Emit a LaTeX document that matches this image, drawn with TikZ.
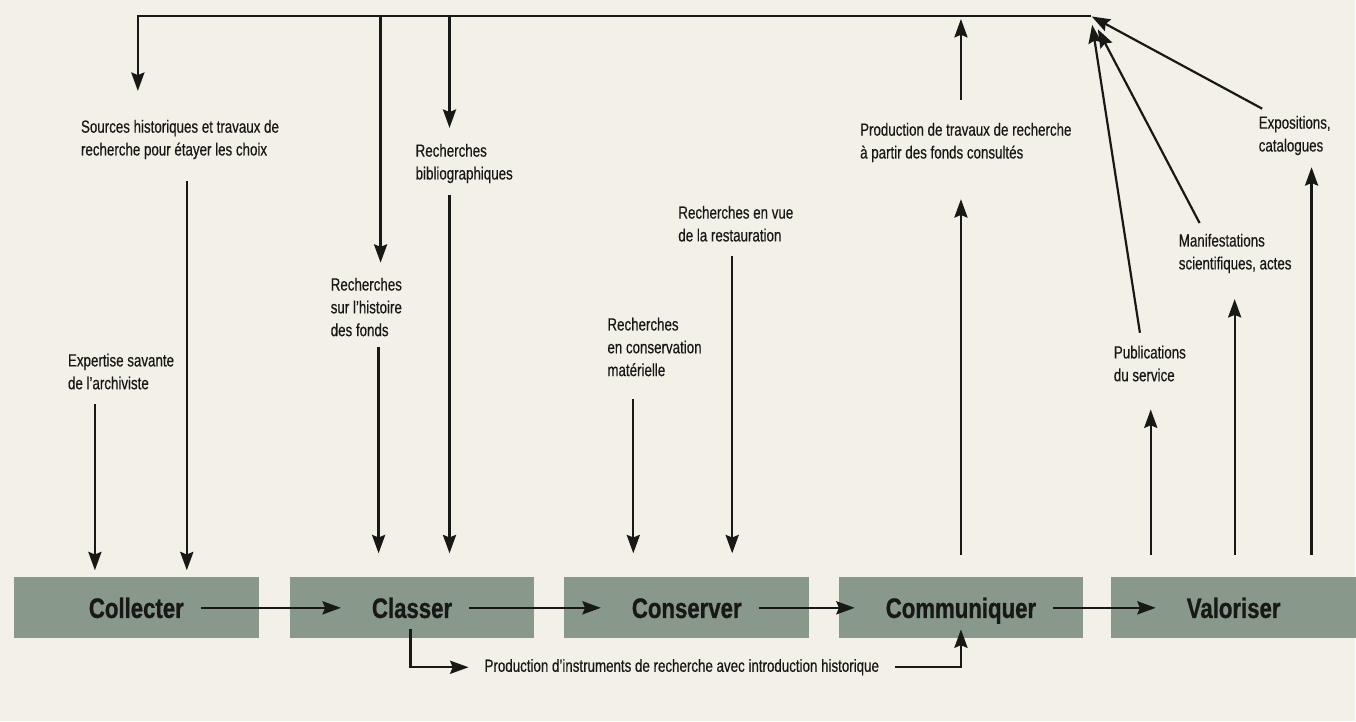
\documentclass[tikz,border=0pt]{standalone}
\usepackage{fontspec}
\setmainfont{Liberation Sans}[FakeStretch=0.76, FakeBold=0.4]
\newfontfamily\stagefont{Liberation Sans}[FakeStretch=0.79, FakeBold=0.9]
\usetikzlibrary{arrows.meta}
\definecolor{paper}{RGB}{243,240,231}
\definecolor{stagegreen}{RGB}{136,153,139}
\definecolor{ink}{RGB}{24,24,22}
\begin{document}
\begin{tikzpicture}[x=0.02cm, y=-0.02cm, line width=1.25pt, color=ink,
  every node/.style={font=\fontsize{10}{13}\selectfont, text=ink},
  stage/.style={fill=stagegreen, minimum width=4.9cm, minimum height=1.22cm, inner sep=0pt},
  stagetxt/.style={font=\stagefont\fontsize{16}{19}\selectfont\bfseries, inner sep=0pt, text height=11.5pt, text depth=0pt},
  lbl/.style={align=left, anchor=north west, inner sep=0pt},
  arr/.style={-{Stealth[length=10.5pt,width=7.5pt,inset=1.5pt]}}]
\fill[paper] (0,0) rectangle (1356,722);
% stages
\node[stage] (collecter) at (136.5,608.5) {};
\node[stage] (classer) at (412.5,608.5) {};
\node[stage] (conserver) at (687.5,608.5) {};
\node[stage] (communiquer) at (962,608.5) {};
\node[stage] (valoriser) at (1235,608.5) {};
\node[stagetxt] (tcollecter) at (collecter) {Collecter};
\node[stagetxt] (tclasser) at (classer) {Classer};
\node[stagetxt] (tconserver) at (conserver) {Conserver};
\node[stagetxt] (tcommuniquer) at (communiquer) {Communiquer};
\node[stagetxt] (tvaloriser) at (valoriser) {Valoriser};
\draw[arr, shorten <=0.32cm, shorten >=0.6cm] (tcollecter) -- (tclasser);
\draw[arr, shorten <=0.32cm, shorten >=0.6cm] (tclasser) -- (tconserver);
\draw[arr, shorten <=0.32cm, shorten >=0.6cm] (tconserver) -- (tcommuniquer);
\draw[arr, shorten <=0.32cm, shorten >=0.6cm] (tcommuniquer) -- (tvaloriser);
% labels
\node[lbl] (src) at (80,119) {Sources historiques et travaux de\\recherche pour étayer les choix};
\node[lbl] (exp) at (67,353) {Expertise savante\\de l’archiviste};
\node[lbl] (hist) at (330,277) {Recherches\\sur l’histoire\\des fonds};
\node[lbl] (biblio) at (415,143) {Recherches\\bibliographiques};
\node[lbl] (mat) at (607,317) {Recherches\\en conservation\\matérielle};
\node[lbl] (resto) at (678,205) {Recherches en vue\\de la restauration};
\node[lbl] (prod) at (860,122) {Production de travaux de recherche\\à partir des fonds consultés};
\node[lbl] (pub) at (1114,345) {Publications\\du service};
\node[lbl] (manif) at (1179,233) {Manifestations\\scientifiques, actes};
\node[lbl] (expo) at (1259,115) {Expositions,\\catalogues};
\node[anchor=west, inner sep=0pt] (instr) at (484,668) {Production d’instruments de recherche avec introduction historique};
% top line
\coordinate (hub) at (1092,16);
\draw[arr, shorten >=0.56cm] (hub) -| (src.north -| 138,0);
\draw[arr, shorten >=0.28cm] (381,0 |- hub) -- (hist.north -| 381,0);
\draw[arr, shorten >=0.3cm] (450,0 |- hub) -- (biblio.north -| 450,0);
% down into stages
\draw[arr, shorten <=0.42cm, shorten >=0.12cm] (src.south -| 187,0) -- (187,0 |- collecter.north);
\draw[arr, shorten <=0.28cm, shorten >=0.12cm] (exp.south -| 95,0) -- (95,0 |- collecter.north);
\draw[arr, shorten <=0.2cm, shorten >=0.46cm] (hist.south -| 379,0) -- (379,0 |- classer.north);
\draw[arr, shorten <=0.22cm, shorten >=0.46cm] (biblio.south -| 450,0) -- (450,0 |- classer.north);
\draw[arr, shorten <=0.44cm, shorten >=0.46cm] (mat.south -| 634,0) -- (634,0 |- conserver.north);
\draw[arr, shorten <=0.26cm, shorten >=0.46cm] (resto.south -| 733,0) -- (733,0 |- conserver.north);
% up from stages
\draw[arr, shorten <=0.42cm, shorten >=0.72cm] (962,0 |- communiquer.north) -- (prod.south -| 962,0);
\draw[arr, shorten <=0.44cm, shorten >=0.06cm] (prod.north -| 962,0) -- (962,0 |- hub);
\draw[arr, shorten <=0.42cm, shorten >=0.54cm] (1152,0 |- valoriser.north) -- (pub.south -| 1152,0);
\draw[arr, shorten <=0.42cm, shorten >=0.5cm] (1236,0 |- valoriser.north) -- (manif.south -| 1236,0);
\draw[arr, shorten <=0.42cm, shorten >=0.22cm] (1313,0 |- valoriser.north) -- (expo.south -| 1313,0);
\draw[arr, shorten <=0.24cm, shorten >=0.18cm] (pub.north -| 1143,0) -- (hub);
\draw[arr, shorten <=0.22cm, shorten >=0.3cm] (manif.north -| 1206,0) -- (hub);
\draw[arr, shorten <=0.26cm, shorten >=0.02cm] (expo.north -| 1275,0) -- (hub);
% instruments de recherche
\draw[arr, shorten >=0.3cm] ([yshift=0.2cm]classer.south -| 411,0) |- (instr.west);
\draw[arr, shorten <=0.3cm] (instr.east) -| ([yshift=0.2cm]communiquer.south -| 962,0);
\end{tikzpicture}
\end{document}
